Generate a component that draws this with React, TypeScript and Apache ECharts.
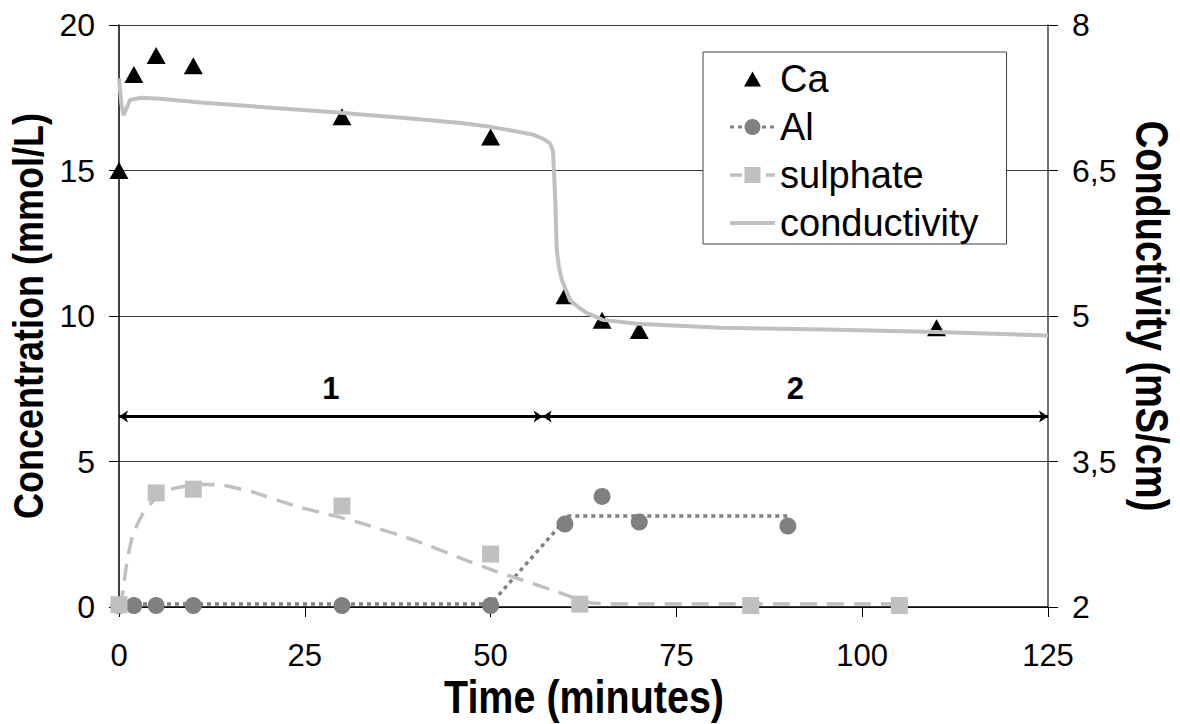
import React, { useEffect, useRef } from "react";
import * as echarts from "echarts";

// ---- data ----
const caTime = [0, 2, 5, 10, 30, 50, 60, 65, 70, 110];
const caValues = [15.0, 18.3, 18.95, 18.6, 16.85, 16.15, 10.7, 9.85, 9.5, 9.6];

const alTime = [0, 2, 5, 10, 30, 50, 60, 65, 70, 90];
const alValues = [0.05, 0.05, 0.05, 0.05, 0.05, 0.05, 2.85, 3.8, 2.92, 2.78];

const alTrendTime = [0, 50, 60.5, 90];
const alTrendValues = [0.1, 0.1, 3.13, 3.13];

const sulphateTime = [0, 5, 10, 30, 50, 62, 85, 105];
const sulphateValues = [0.08, 3.92, 4.05, 3.47, 1.82, 0.1, 0.05, 0.05];

const sulphateTrendTime = [0, 0.4, 1.1, 1.9, 3.2, 5, 7, 11, 14, 18, 24, 29, 33, 40, 47, 51, 54, 59, 63.5, 70, 104];
const sulphateTrendValues = [0, 0.35, 1.6, 2.5, 3.2, 3.75, 4.05, 4.22, 4.18, 3.95, 3.45, 3.13, 2.85, 2.27, 1.58, 1.2, 0.95, 0.52, 0.14, 0.1, 0.1];

const condTime = [0, 0.3, 0.6, 1, 1.5, 3, 5.5, 11, 20, 29, 40, 46, 50, 53, 55.7, 57, 58, 58.4, 58.7, 58.9, 59.2, 59.6, 60.7, 62, 63, 65.1, 69.7, 80.9, 95, 110, 125];
const condValues = [7.45, 7.2, 7.07, 7.14, 7.23, 7.25, 7.24, 7.2, 7.15, 7.1, 7.03, 6.99, 6.95, 6.91, 6.87, 6.83, 6.78, 6.7, 6.2, 5.68, 5.5, 5.37, 5.16, 5.08, 5.03, 4.96, 4.92, 4.88, 4.86, 4.835, 4.8];

const phaseBounds = [0, 57, 125];
const phaseLabels = ["1", "2"];
const phaseLevel = 6.55;

const xTicks = { min: 0, max: 125, interval: 25 };
const leftTicks = { min: 0, max: 20, interval: 5 };
const rightTickValues = [2, 3.5, 5, 6.5, 8];

const zip = (a: number[], b: number[]) => a.map((v, i) => [v, b[i]]);

const FONT = "'Liberation Sans', Arial, sans-serif";

// legend triangle (kept small inside the 45x20 legend icon box)
const LEGEND_TRIANGLE = "path://M0,0L0.01,0M45,20L44.99,20M14,17.5L22.5,2.5L31,17.5Z";

export default function App() {
  const ref = useRef<HTMLDivElement>(null);
  useEffect(() => {
    if (!ref.current) return;
    const chart = echarts.init(ref.current, undefined, { renderer: "svg" });
    const markLineData = phaseLabels.map((name, i) => [
      { name, coord: [phaseBounds[i], phaseLevel] },
      { coord: [phaseBounds[i + 1], phaseLevel] },
    ]);
    chart.setOption({
      animation: false,
      backgroundColor: "#fff",
      grid: { left: 119, right: 132, top: 25, bottom: 117, containLabel: false },
      xAxis: {
        type: "value",
        min: xTicks.min,
        max: xTicks.max,
        interval: xTicks.interval,
        axisLine: { show: true, onZero: false, lineStyle: { color: "#000", width: 1.5 } },
        axisTick: { show: true, inside: false, length: 10, lineStyle: { color: "#000", width: 1 } },
        axisLabel: { fontFamily: FONT, fontSize: 31, color: "#000", margin: 33 },
        splitLine: { show: false },
      },
      yAxis: [
        {
          type: "value",
          min: leftTicks.min,
          max: leftTicks.max,
          interval: leftTicks.interval,
          axisLine: { show: true, lineStyle: { color: "#000", width: 1.5 } },
          axisTick: { show: true, inside: false, length: 10, lineStyle: { color: "#000" } },
          axisLabel: { fontFamily: FONT, fontSize: 32, color: "#000", margin: 24 },
          splitLine: { show: true, lineStyle: { color: "#3a3a3a", width: 1 } },
        },
        {
          type: "value",
          min: 2,
          max: 8,
          position: "right",
          axisLine: { show: true, lineStyle: { color: "#404040", width: 1.5 } },
          axisTick: { show: true, inside: false, length: 10, customValues: rightTickValues, lineStyle: { color: "#000" } },
          axisLabel: {
            fontFamily: FONT,
            fontSize: 32,
            color: "#000",
            margin: 24,
            customValues: rightTickValues,
            formatter: (v: number) => String(v).replace(".", ","),
          },
          splitLine: { show: false },
        },
      ],
      legend: {
        orient: "vertical",
        left: 703,
        top: 52,
        selectedMode: false,
        backgroundColor: "#fff",
        borderColor: "#404040",
        borderWidth: 1,
        borderRadius: 0,
        padding: [8, 28, 2, 25],
        itemWidth: 45,
        itemHeight: 20,
        itemGap: 10,
        textStyle: { fontFamily: FONT, fontSize: 38, color: "#000", lineHeight: 38 },
        data: [
          { name: "Ca", icon: LEGEND_TRIANGLE, itemStyle: { color: "#000", opacity: 1 } },
          { name: "Al", lineStyle: { type: [4, 4], width: 3, color: "#808080", opacity: 1 } },
          { name: "sulphate", lineStyle: { type: [12, 6], width: 3.5, color: "#c0c0c0", opacity: 1 } },
          {
            name: "conductivity",
            lineStyle: { type: "solid", width: 4, color: "#c0c0c0", opacity: 1 },
            itemStyle: { color: "rgba(0,0,0,0)", borderWidth: 0, opacity: 0 },
          },
        ],
      },
      graphic: [
        {
          type: "text",
          x: 28,
          y: 316,
          rotation: Math.PI / 2,
          scaleY: 1.2,
          style: {
            text: "Concentration (mmol/L)",
            fontFamily: FONT,
            fontWeight: "bold",
            fontSize: 36,
            fill: "#000",
            align: "center",
            verticalAlign: "middle",
          },
        },
        {
          type: "text",
          x: 1152,
          y: 316,
          rotation: -Math.PI / 2,
          scaleY: 1.2,
          style: {
            text: "Conductivity (mS/cm)",
            fontFamily: FONT,
            fontWeight: "bold",
            fontSize: 38,
            fill: "#000",
            align: "center",
            verticalAlign: "middle",
          },
        },
        {
          type: "text",
          x: 584,
          y: 697,
          scaleX: 0.84,
          style: {
            text: "Time (minutes)",
            fontFamily: FONT,
            fontWeight: "bold",
            fontSize: 47,
            fill: "#000",
            align: "center",
            verticalAlign: "middle",
          },
        },
      ],
      series: [
        {
          name: "Al trend",
          type: "line",
          data: zip(alTrendTime, alTrendValues),
          symbol: "none",
          lineStyle: { color: "#808080", width: 3.5, type: [4, 4] },
          z: 2,
          silent: true,
        },
        {
          name: "sulphate trend",
          type: "line",
          data: zip(sulphateTrendTime, sulphateTrendValues),
          symbol: "none",
          smooth: 0.2,
          lineStyle: { color: "#c0c0c0", width: 3.5, type: [17, 10] },
          z: 2,
          silent: true,
        },
        {
          name: "Ca",
          type: "scatter",
          data: zip(caTime, caValues),
          symbol: "triangle",
          symbolSize: [19, 17],
          itemStyle: { color: "#000", opacity: 1 },
          z: 3,
          markLine: {
            silent: true,
            symbol: ["arrow", "arrow"],
            symbolSize: [9, 9],
            lineStyle: { color: "#000", width: 3, type: "solid" },
            label: {
              show: true,
              position: "middle",
              formatter: "{b}",
              fontFamily: FONT,
              fontWeight: "bold",
              fontSize: 31,
              color: "#000",
              distance: 12,
            },
            data: markLineData,
          },
        },
        {
          name: "Al",
          type: "line",
          data: zip(alTime, alValues),
          symbol: "circle",
          symbolSize: 17,
          showSymbol: true,
          lineStyle: { opacity: 0, width: 0 },
          itemStyle: { color: "#808080" },
          z: 4,
        },
        {
          name: "sulphate",
          type: "line",
          data: zip(sulphateTime, sulphateValues),
          symbol: "rect",
          symbolSize: 17,
          showSymbol: true,
          lineStyle: { opacity: 0, width: 0 },
          itemStyle: { color: "#c0c0c0" },
          z: 4,
        },
        {
          name: "conductivity",
          type: "line",
          yAxisIndex: 1,
          data: zip(condTime, condValues),
          symbol: "none",
          itemStyle: { color: "#c0c0c0" },
          lineStyle: { color: "#c0c0c0", width: 4 },
          z: 5,
        },
      ],
    });
    return () => chart.dispose();
  }, []);
  return <div ref={ref} style={{ width: 1180, height: 724, position: "absolute", left: 0, top: 0 }} />;
}
